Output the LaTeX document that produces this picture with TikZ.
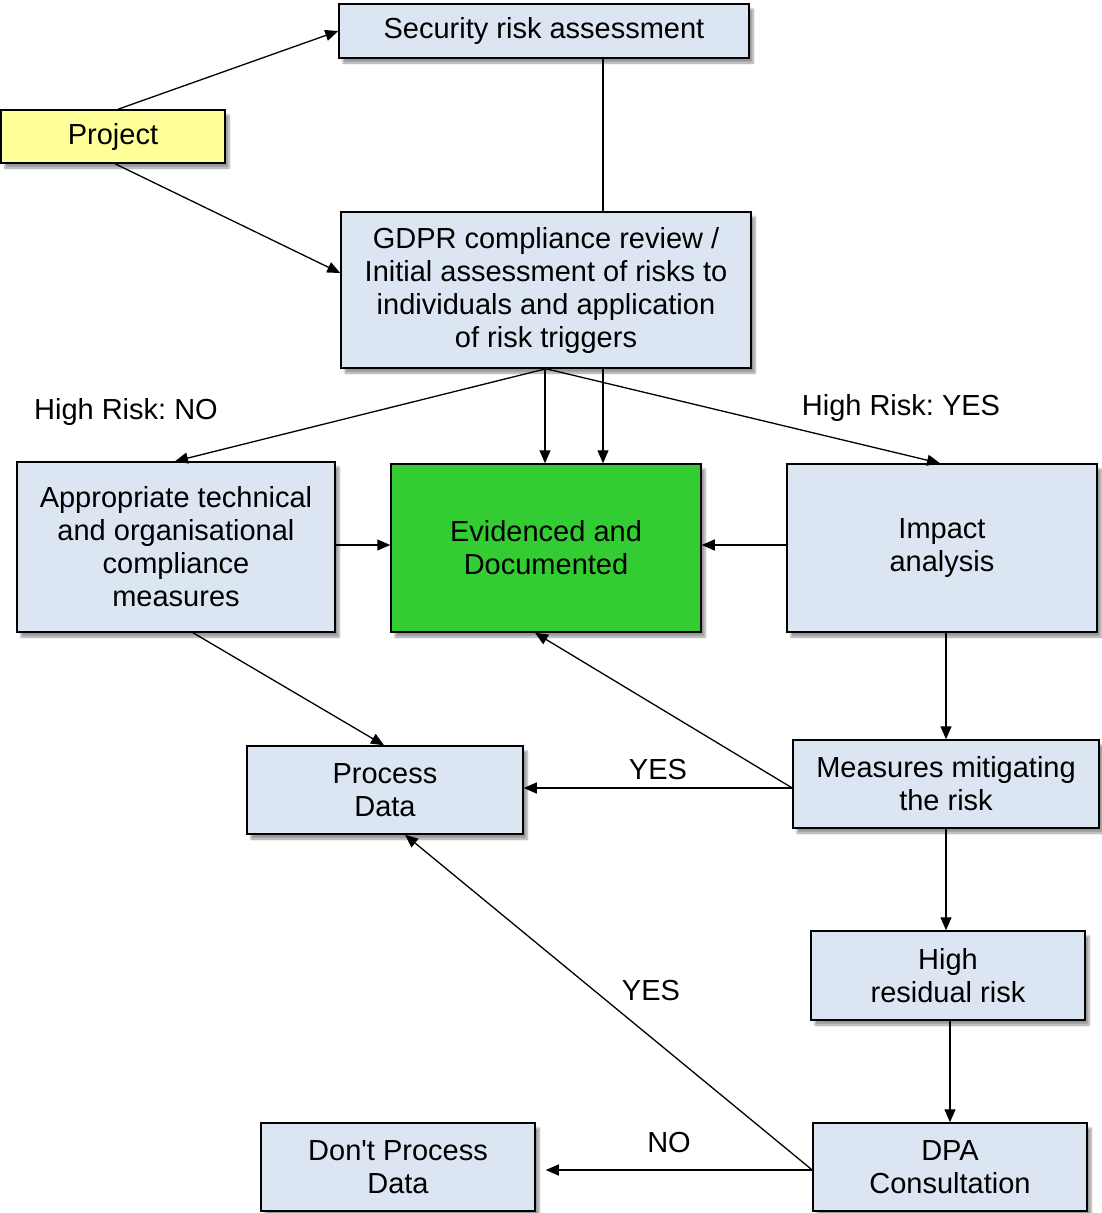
\documentclass[tikz,border=0pt]{standalone}
\usepackage{fontspec}
\setmainfont{Liberation Sans}
\newfontfamily\plainsans{Liberation Sans}
\frenchspacing
\usetikzlibrary{arrows.meta,calc,shadows.blur,backgrounds}
\definecolor{boxblue}{HTML}{DCE6F2}
\definecolor{projyellow}{HTML}{FFFF99}
\definecolor{evgreen}{HTML}{33CC33}
\begin{document}
\begin{tikzpicture}[x=1pt,y=-1pt,
  box/.style={draw=black,line width=1.5pt,fill=boxblue,inner sep=0pt,align=center,
    font=\fontsize{29}{33}\selectfont,
    blur shadow={shadow xshift=4pt,shadow yshift=-5pt,shadow blur steps=6,shadow opacity=40}},
  conn/.style={line width=1.3pt,-{Triangle[length=13pt,width=11pt]}},
  lbl/.style={font=\fontsize{29}{33}\selectfont,inner sep=0pt}]
\useasboundingbox (0,0) rectangle (1101,1213);
\node[box,minimum width=410pt,minimum height=54pt] (sec) at (544,31) {Security risk assessment};
\node[box,fill=projyellow,minimum width=224pt,minimum height=53pt] (proj) at (113,136.5) {Project};
\node[box,minimum width=410pt,minimum height=156pt] (gdpr) at (546,290) {GDPR compliance review /\\Initial assessment of risks to\\individuals and application\\of risk triggers};
\node[box,minimum width=318pt,minimum height=170pt] (appr) at (176,547) {Appropriate technical\\and organisational\\compliance\\measures};
\node[box,fill=evgreen,minimum width=310pt,minimum height=168pt] (evid) at (546,548) {Evidenced and\\Documented};
\node[box,minimum width=310pt,minimum height=168pt] (impact) at (942,548) {Impact\\analysis};
\node[box,minimum width=276pt,minimum height=88pt] (process) at (385,790) {Process\\Data};
\node[box,minimum width=306pt,minimum height=88pt] (measures) at (946,784) {Measures mitigating\\the risk};
\node[box,minimum width=274pt,minimum height=89pt] (high) at (948,975.5) {High\\residual risk};
\node[box,minimum width=274pt,minimum height=88pt] (dont) at (398,1167) {{\plainsans Don't Process}\\Data};
\node[box,minimum width=274pt,minimum height=88pt] (dpa) at (950,1167) {DPA\\Consultation};

\node[lbl] (lno) at (126,412) {High Risk: NO};
\node[lbl] (lyes) at (901,408) {High Risk: YES};
\node[lbl] (yes1) at (658,770) {YES};
\node[lbl] (yes2) at (651,991) {YES};
\node[lbl] (no1) at (669,1143) {NO};

\begin{scope}[on background layer]
\draw[conn] ($(sec.south)+(59,0)$) -- ($(evid.north)+(57,0)$);
\end{scope}
\draw[conn] ($(proj.north)+(5,0)$) -- (sec.west);
\draw[conn] ($(proj.south)+(2,0)$) -- ($(gdpr.west)+(0,-17)$);
\draw[conn] ($(gdpr.south)+(-1,0)$) -- ($(evid.north)+(-1,0)$);
\draw[conn] (gdpr.south) -- ($(appr.north)+(-1,0)$);
\draw[conn] (gdpr.south) -- ($(impact.north)+(-2,0)$);
\draw[conn] ($(appr.east)+(0,-2)$) -- ($(appr.east -| evid.west)+(0,-2)$);
\draw[conn] ($(impact.west)+(0,-3)$) -- ($(impact.west -| evid.east)+(0,-3)$);
\draw[conn] ($(appr.south)+(17,0)$) -- ($(process.north)+(-1,0)$);
\draw[conn] ($(impact.south)+(4,0)$) -- (measures.north);
\draw[conn] ($(measures.west)+(0,4)$) -- ($(measures.west -| process.east)+(0,4)$);
\draw[conn] ($(measures.west)+(0,4)$) -- ($(evid.south)+(-11,0)$);
\draw[conn] (measures.south) -- (measures.south |- high.north);
\draw[conn] ($(high.south)+(2,0)$) -- (dpa.north);
\draw[conn] ($(dpa.west)+(0,3)$) -- ($(dont.east)+(10,3)$);
\draw[conn] ($(dpa.west)+(0,3)$) -- ($(process.south)+(20,0)$);
\end{tikzpicture}
\end{document}
